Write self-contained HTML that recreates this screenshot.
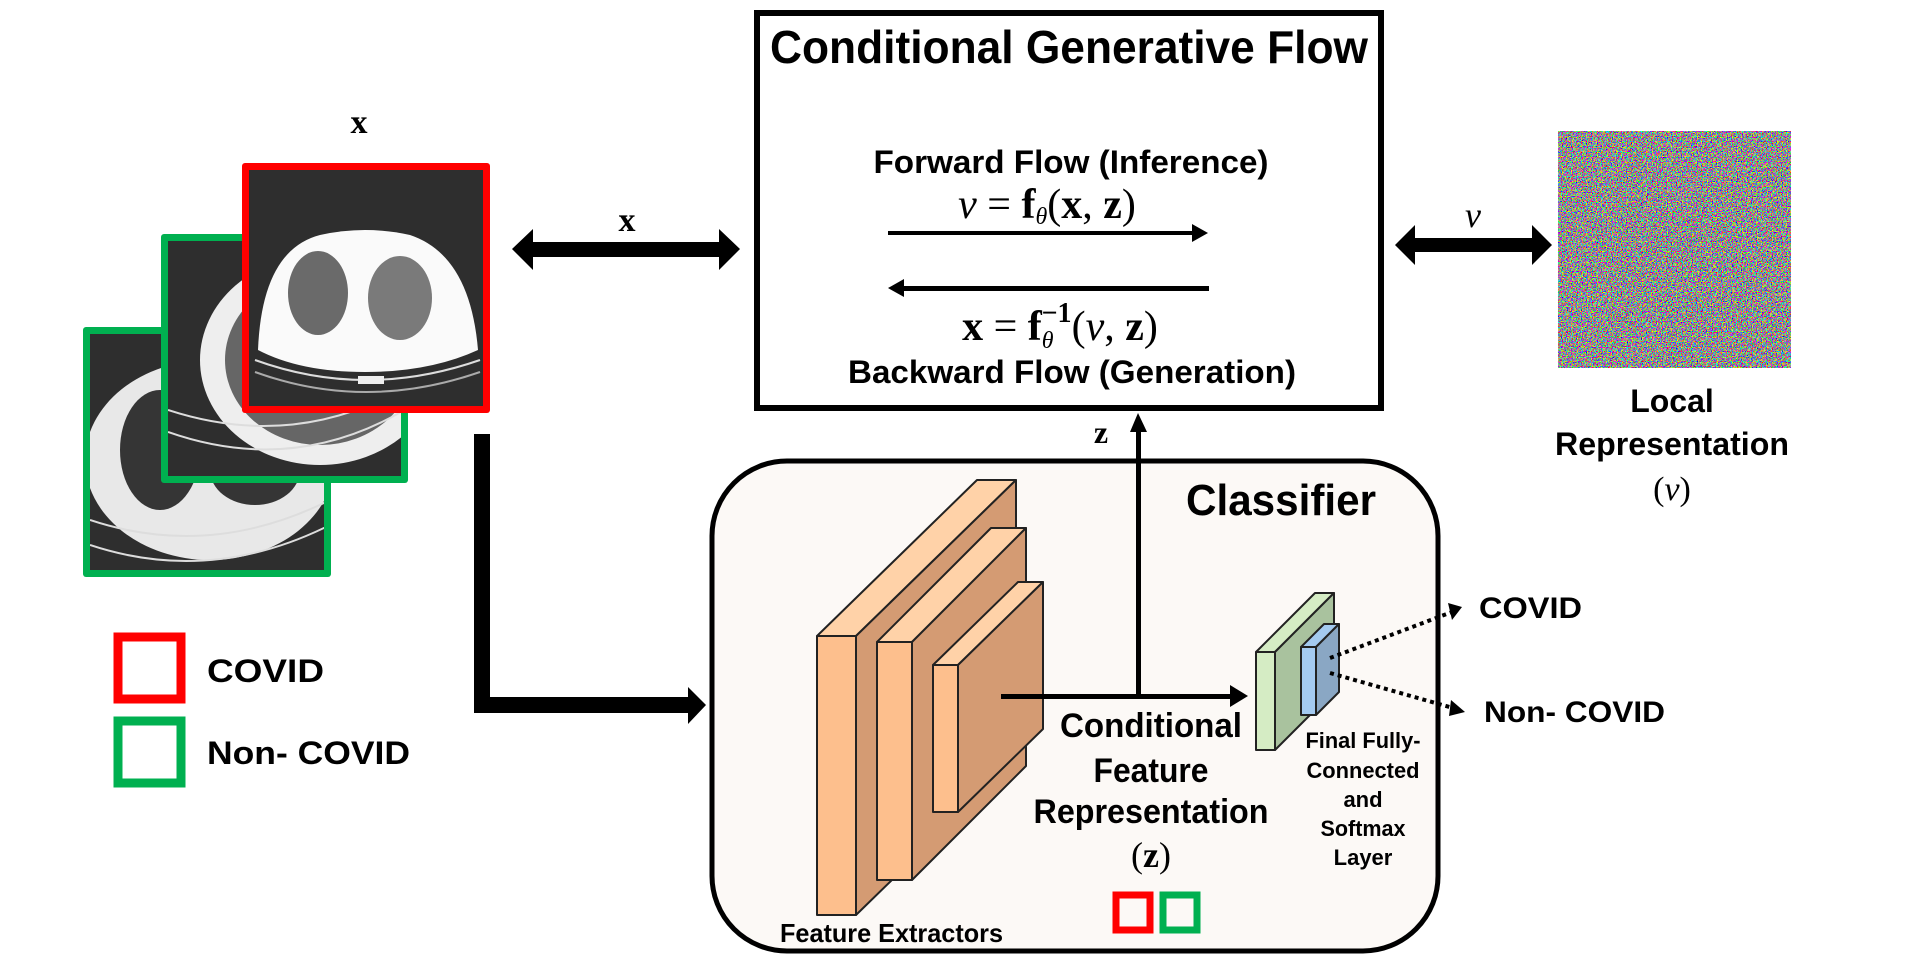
<!DOCTYPE html>
<html><head><meta charset="utf-8"><style>
html,body{margin:0;padding:0;background:#fff;}
svg{display:block;}
.s{font-family:"Liberation Sans",sans-serif;font-weight:bold;fill:#000;}
.m{font-family:"Liberation Serif",serif;fill:#000;}
</style></head><body>
<svg width="1910" height="959" viewBox="0 0 1910 959" xmlns="http://www.w3.org/2000/svg">
<defs>
<filter id="noise" x="0" y="0" width="100%" height="100%">
<feTurbulence type="fractalNoise" baseFrequency="0.8" numOctaves="1" seed="3" result="t"/>
<feColorMatrix in="t" type="matrix" values="6 -2.5 -2.5 0 -0.1  -2.5 6 -2.5 0 -0.1  -2.5 -2.5 6 0 -0.1  0 0 0 0 1"/>
</filter>
<clipPath id="c1"><rect x="90" y="334" width="234" height="236"/></clipPath>
<clipPath id="c2"><rect x="168" y="241" width="233" height="235"/></clipPath>
<clipPath id="c3"><rect x="249" y="170" width="234" height="236"/></clipPath>
</defs>

<!-- CT image 1 (back) -->
<rect x="83" y="327" width="248" height="250" rx="3" fill="#00b050"/>
<g clip-path="url(#c1)">
<rect x="90" y="334" width="234" height="236" fill="#2e2e2e"/>
<ellipse cx="210" cy="460" rx="125" ry="100" fill="#e8e8e8"/>
<ellipse cx="160" cy="450" rx="40" ry="60" fill="#353535"/>
<ellipse cx="255" cy="470" rx="45" ry="35" fill="#353535"/>
<path d="M90 520 Q210 560 330 500" stroke="#ddd" stroke-width="2" fill="none"/>
<path d="M90 545 Q210 585 330 525" stroke="#ddd" stroke-width="2" fill="none"/>
</g>
<!-- CT image 2 -->
<rect x="161" y="234" width="247" height="249" rx="3" fill="#00b050"/>
<g clip-path="url(#c2)">
<rect x="168" y="241" width="233" height="235" fill="#2e2e2e"/>
<ellipse cx="320" cy="360" rx="120" ry="105" fill="#eee"/>
<ellipse cx="320" cy="360" rx="95" ry="85" fill="#666"/>
<path d="M168 410 Q290 450 401 390" stroke="#ddd" stroke-width="2" fill="none"/>
<path d="M168 432 Q290 475 401 412" stroke="#ddd" stroke-width="2" fill="none"/>
</g>
<!-- CT image 3 (front, red) -->
<rect x="242" y="163" width="248" height="250" rx="3" fill="#ff0000"/>
<g clip-path="url(#c3)">
<rect x="249" y="170" width="234" height="236" fill="#2e2e2e"/>
<path d="M258 350 Q262 250 320 235 Q365 225 410 235 Q470 255 478 350 Q430 372 365 372 Q300 372 258 350Z" fill="#fafafa"/>
<ellipse cx="318" cy="293" rx="30" ry="42" fill="#6a6a6a"/>
<ellipse cx="400" cy="298" rx="32" ry="42" fill="#7a7a7a"/>
<path d="M255 360 Q365 400 480 360" stroke="#ddd" stroke-width="2" fill="none"/>
<path d="M255 372 Q365 412 480 372" stroke="#aaa" stroke-width="2" fill="none"/>
<rect x="358" y="376" width="26" height="8" fill="#eee"/>
</g>

<text class="m" x="359" y="133" font-size="34" font-weight="bold" text-anchor="middle">x</text>

<!-- left double arrow -->
<polygon points="512,249 533,229 533,242 719,242 719,229 740,249 719,270 719,257 533,257 533,270" fill="#000"/>
<text class="m" x="627" y="231" font-size="34" font-weight="bold" text-anchor="middle">x</text>

<!-- Flow box -->
<rect x="757" y="13" width="624" height="395" fill="#fff" stroke="#000" stroke-width="6"/>
<text class="s" x="1069" y="63" font-size="46" text-anchor="middle" textLength="598" lengthAdjust="spacingAndGlyphs">Conditional Generative Flow</text>
<text class="s" x="1071" y="173" font-size="32" text-anchor="middle" textLength="395" lengthAdjust="spacingAndGlyphs">Forward Flow (Inference)</text>
<text class="m" x="1047" y="218" font-size="42" text-anchor="middle"><tspan font-style="italic">ν</tspan> = <tspan font-weight="bold">f</tspan><tspan font-size="24" font-style="italic" dy="6">θ</tspan><tspan dy="-6">(</tspan><tspan font-weight="bold">x</tspan>, <tspan font-weight="bold">z</tspan>)</text>
<rect x="888" y="231" width="306" height="4" fill="#000"/>
<polygon points="1208,233 1192,224 1192,242" fill="#000"/>
<rect x="902" y="286" width="307" height="5" fill="#000"/>
<polygon points="888,288 904,279 904,297" fill="#000"/>
<text class="m" x="1060" y="340" font-size="42" text-anchor="middle"><tspan font-weight="bold">x</tspan> = <tspan font-weight="bold">f</tspan><tspan font-size="24" font-style="italic" dy="8">θ</tspan><tspan font-size="28" font-weight="bold" dx="-12" dy="-26">−1</tspan><tspan dy="18">(</tspan><tspan font-style="italic">ν</tspan>, <tspan font-weight="bold">z</tspan>)</text>
<text class="s" x="1072" y="383" font-size="32" text-anchor="middle" textLength="448" lengthAdjust="spacingAndGlyphs">Backward Flow (Generation)</text>

<!-- right double arrow -->
<polygon points="1395,245 1415,225 1415,238 1532,238 1532,225 1552,245 1532,265 1532,252 1415,252 1415,265" fill="#000"/>
<text class="m" x="1473" y="227" font-size="36" font-style="italic" text-anchor="middle">ν</text>

<!-- noise image -->
<rect x="1558" y="131" width="233" height="237" fill="#888" filter="url(#noise)"/>
<text class="s" x="1672" y="412" font-size="32" text-anchor="middle">Local</text>
<text class="s" x="1672" y="455" font-size="32" text-anchor="middle" textLength="234" lengthAdjust="spacingAndGlyphs">Representation</text>
<text class="m" x="1672" y="500" font-size="34" text-anchor="middle">(<tspan font-style="italic">ν</tspan>)</text>

<!-- elbow arrow -->
<polygon points="474,434 490,434 490,697 688,697 688,687 706,705 688,724 688,713 474,713" fill="#000"/>

<!-- legend -->
<rect x="118" y="637" width="63" height="62" fill="none" stroke="#ff0000" stroke-width="9"/>
<rect x="118" y="721" width="63" height="62" fill="none" stroke="#00b050" stroke-width="9"/>
<text class="s" x="207" y="682" font-size="32" textLength="117" lengthAdjust="spacingAndGlyphs">COVID</text>
<text class="s" x="207" y="764" font-size="32" textLength="203" lengthAdjust="spacingAndGlyphs">Non- COVID</text>

<!-- Classifier box -->
<rect x="712" y="461" width="726" height="490" rx="75" fill="#fcf9f6" stroke="#000" stroke-width="5"/>
<text class="s" x="1281" y="515" font-size="44" text-anchor="middle" textLength="190" lengthAdjust="spacingAndGlyphs">Classifier</text>

<!-- slabs -->
<g stroke="#222" stroke-width="2" stroke-linejoin="round">
<polygon points="817,636 977,480 1016,480 856,636" fill="#ffd2a8"/>
<polygon points="856,636 1016,480 1016,759 856,915" fill="#d49b73"/>
<rect x="817" y="636" width="39" height="279" fill="#fdbf8d"/>
<polygon points="877,642 991,528 1026,528 912,642" fill="#ffd2a8"/>
<polygon points="912,642 1026,528 1026,766 912,880" fill="#d49b73"/>
<rect x="877" y="642" width="35" height="238" fill="#fdbf8d"/>
<polygon points="933,665 1018,582 1043,582 958,665" fill="#ffd2a8"/>
<polygon points="958,665 1043,582 1043,729 958,812" fill="#d49b73"/>
<rect x="933" y="665" width="25" height="147" fill="#fdbf8d"/>
</g>

<!-- z arrow -->
<rect x="1136" y="430" width="5" height="266" fill="#000"/>
<polygon points="1138,413 1130,432 1147,432" fill="#000"/>
<text class="m" x="1101" y="443" font-size="32" font-weight="bold" text-anchor="middle">z</text>

<!-- horizontal arrow -->
<rect x="1001" y="694" width="232" height="5" fill="#000"/>
<polygon points="1248,696 1230,685 1230,707" fill="#000"/>

<!-- FC blocks -->
<g stroke="#222" stroke-width="2" stroke-linejoin="round">
<polygon points="1256,652 1315,593 1334,593 1275,652" fill="#d5ecc4"/>
<polygon points="1275,652 1334,593 1334,691 1275,750" fill="#a9c29e"/>
<rect x="1256" y="652" width="19" height="98" fill="#d5ecc4"/>
<polygon points="1301,647 1324,624 1339,624 1316,647" fill="#a4caf0"/>
<polygon points="1316,647 1339,624 1339,692 1316,715" fill="#8aa7c4"/>
<rect x="1301" y="647" width="15" height="68" fill="#a4caf0"/>
</g>

<!-- dotted arrows -->
<line x1="1330" y1="658" x2="1452" y2="612" stroke="#000" stroke-width="4" stroke-dasharray="4,4"/>
<polygon points="1462,607 1448,603 1452,620" fill="#000"/>
<line x1="1330" y1="673" x2="1453" y2="708" stroke="#000" stroke-width="4" stroke-dasharray="4,4"/>
<polygon points="1465,712 1451,700 1449,716" fill="#000"/>
<text class="s" x="1479" y="618" font-size="30" textLength="103" lengthAdjust="spacingAndGlyphs">COVID</text>
<text class="s" x="1484" y="722" font-size="30" textLength="181" lengthAdjust="spacingAndGlyphs">Non- COVID</text>

<!-- labels -->
<text class="s" x="1151" y="737" font-size="34" text-anchor="middle" textLength="182" lengthAdjust="spacingAndGlyphs">Conditional</text>
<text class="s" x="1151" y="782" font-size="34" text-anchor="middle" textLength="115" lengthAdjust="spacingAndGlyphs">Feature</text>
<text class="s" x="1151" y="823" font-size="34" text-anchor="middle" textLength="235" lengthAdjust="spacingAndGlyphs">Representation</text>
<text class="m" x="1151" y="867" font-size="36" text-anchor="middle">(<tspan font-weight="bold">z</tspan>)</text>
<rect x="1116" y="895" width="34" height="35" fill="none" stroke="#ff0000" stroke-width="7"/>
<rect x="1163" y="895" width="34" height="35" fill="none" stroke="#00b050" stroke-width="7"/>
<text class="s" x="1363" y="748" font-size="22" text-anchor="middle" textLength="115" lengthAdjust="spacingAndGlyphs">Final Fully-</text>
<text class="s" x="1363" y="778" font-size="22" text-anchor="middle" textLength="113" lengthAdjust="spacingAndGlyphs">Connected</text>
<text class="s" x="1363" y="807" font-size="22" text-anchor="middle">and</text>
<text class="s" x="1363" y="836" font-size="22" text-anchor="middle" textLength="85" lengthAdjust="spacingAndGlyphs">Softmax</text>
<text class="s" x="1363" y="865" font-size="22" text-anchor="middle">Layer</text>
<text class="s" x="780" y="942" font-size="26" textLength="223" lengthAdjust="spacingAndGlyphs">Feature Extractors</text>
</svg>
</body></html>
